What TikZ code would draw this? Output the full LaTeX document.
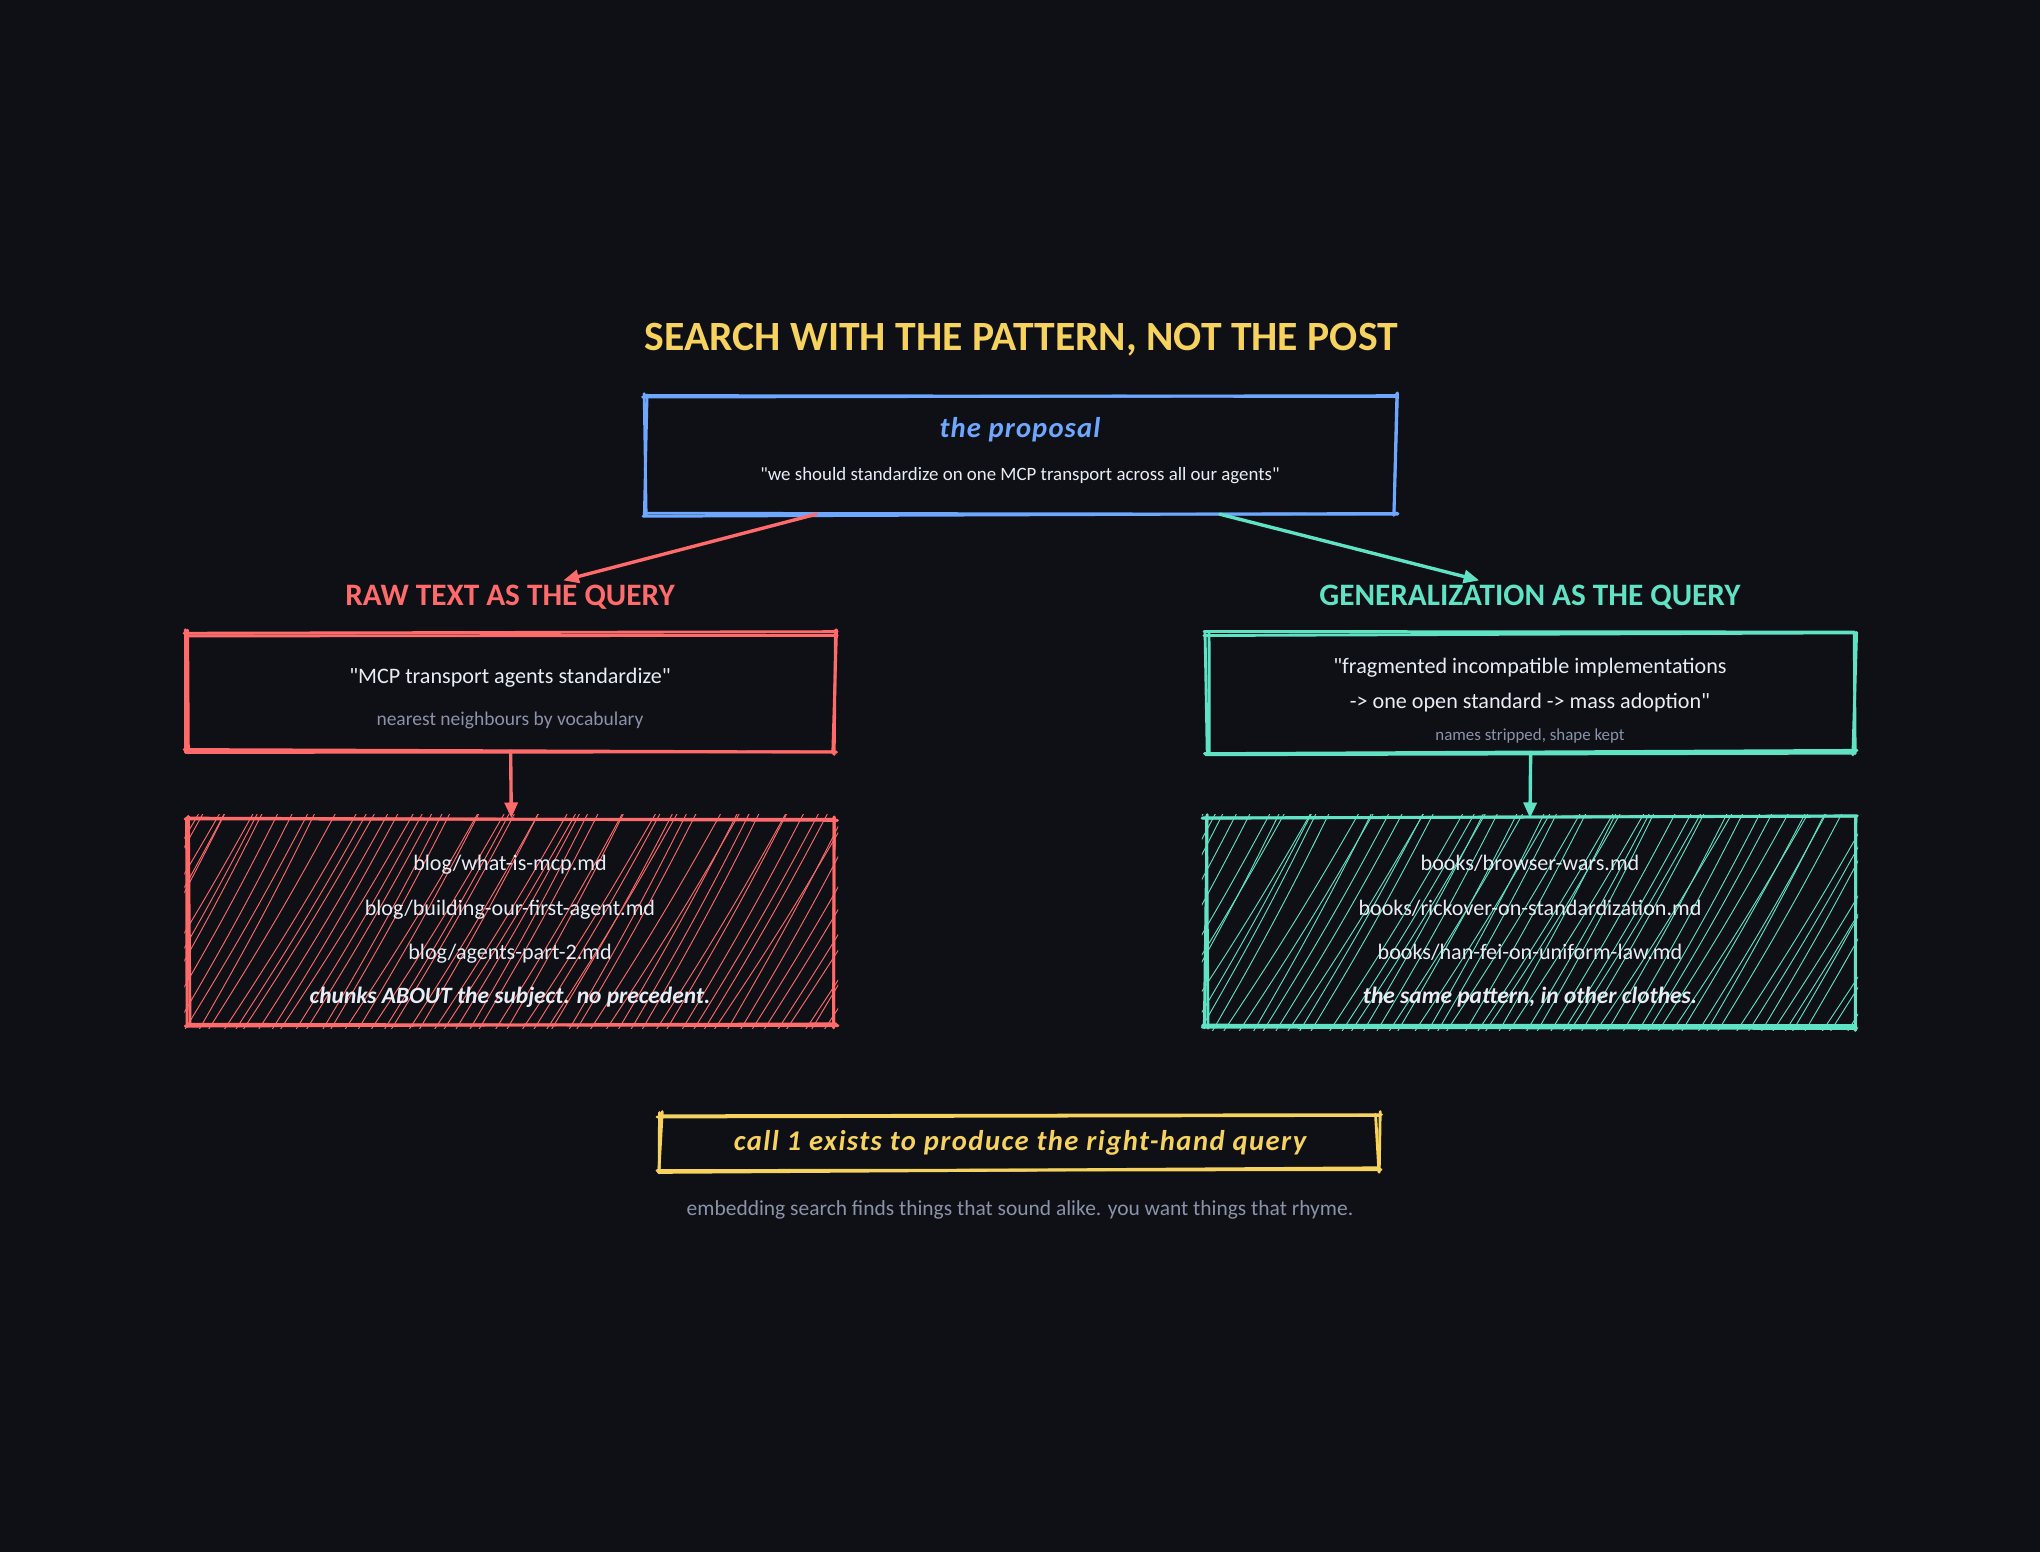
\documentclass[tikz,border=0pt]{standalone}
\usepackage{fontspec}
\setmainfont{Carlito}
\usetikzlibrary{arrows.meta}

\definecolor{bg}{HTML}{0E1016}
\definecolor{sun}{HTML}{F6D25E}
\definecolor{sky}{HTML}{6EA8FE}
\definecolor{coral}{HTML}{FF6B6B}
\definecolor{mint}{HTML}{5FE3C4}
\definecolor{ink}{HTML}{E8EDF5}
\definecolor{mist}{HTML}{8A93A8}

% rough double outline round a named node
\newcommand\sketchrect[2]{%
  \foreach \pass in {1,2}{
    \draw[#2,line width=2.2pt,line cap=round]
      ([shift={({-3pt*rnd},{2pt*rand})}]#1.north west) -- ([shift={({3pt*rnd},{2pt*rand})}]#1.north east);
    \draw[#2,line width=2.2pt,line cap=round]
      ([shift={({2pt*rand},{3pt*rnd})}]#1.north east) -- ([shift={({2pt*rand},{-3pt*rnd})}]#1.south east);
    \draw[#2,line width=2.2pt,line cap=round]
      ([shift={({3pt*rnd},{2pt*rand})}]#1.south east) -- ([shift={({-3pt*rnd},{2pt*rand})}]#1.south west);
    \draw[#2,line width=2.2pt,line cap=round]
      ([shift={({2pt*rand},{-3pt*rnd})}]#1.south west) -- ([shift={({2pt*rand},{3pt*rnd})}]#1.north west);
  }}

% hachure fill inside a named node
\newcommand\hachure[2]{%
  \begin{scope}
    \clip ([shift={(-3pt,-3pt)}]#1.south west) rectangle ([shift={(3pt,3pt)}]#1.north east);
    \foreach \k in {0,...,66}
      \draw[#2,line width=0.7pt] ([shift={({(\k*9.5-110+3*rand)*1pt},-8pt)}]#1.south west) to[bend right=2] ++({60+2*rand}:210pt);
  \end{scope}}

\begin{document}
\begin{tikzpicture}[x=1pt,y=-1pt,
  headline/.style={font=\fontsize{32}{36}\selectfont\bfseries,text=sun,anchor=mid},
  label/.style={font=\fontsize{24}{28}\selectfont\bfseries,anchor=mid},
  body/.style={font=\fontsize{17}{20}\selectfont,text=ink,anchor=mid},
  note/.style={font=\fontsize{15}{18}\selectfont,text=mist,anchor=mid},
  strong/.style={font=\fontsize{18}{21}\selectfont\bfseries\itshape,text=ink,anchor=mid},
  frame/.style={inner sep=0pt,minimum width=#1},
  link/.style={line width=2.6pt,line cap=round,-{Triangle[length=12pt,width=10pt]}}]
\pgfmathsetseed{4}
\fill[bg] (0,0) rectangle (1568,1193);

\path (785,267) node[headline] (title) {SEARCH WITH THE PATTERN, NOT THE POST};

% the proposal
\path (784.5,349.5) node[frame=575pt,minimum height=91pt] (prop) {};
\sketchrect{prop}{sky}
\path (784,334) node[label,text=sky,font=\fontsize{22}{26}\selectfont\bfseries\itshape\addfontfeature{LetterSpace=4}] (propname) {the proposal};
\path (784,367) node[body,font=\fontsize{14.5}{17}\selectfont] (propquote) {\textquotedbl we should standardize on one MCP transport across all our agents\textquotedbl};

% left: raw text
\path (392,463) node[label,text=coral] (rawhead) {RAW TEXT AS THE QUERY};
\path (392.5,532) node[frame=497pt,minimum height=90pt] (rawq) {};
\sketchrect{rawq}{coral}
\path (392,523) node[body] (rawqtext) {\textquotedbl MCP transport agents standardize\textquotedbl};
\path (392,555) node[note] (rawqnote) {nearest neighbours by vocabulary};

\path (393,708) node[frame=496pt,minimum height=158pt] (rawres) {};
\hachure{rawres}{coral}
\sketchrect{rawres}{coral}
\path (392,667) node[body] (rawa) {blog/what-is-mcp.md};
\path (392,701) node[body] (rawb) {blog/building-our-first-agent.md};
\path (392,735) node[body] (rawc) {blog/agents-part-2.md};
\path (392,769) node[strong] (rawd) {chunks ABOUT the subject. no precedent.};

% right: generalization
\path (1176,463) node[label,text=mint] (genhead) {GENERALIZATION AS THE QUERY};
\path (1176.5,532.5) node[frame=497pt,minimum height=91pt] (genq) {};
\sketchrect{genq}{mint}
\path (1176,515) node[body] (genqa) {\textquotedbl fragmented incompatible implementations};
\path (1176,542) node[body] (genqb) {-> one open standard -> mass adoption\textquotedbl};
\path (1176,567) node[note,font=\fontsize{13}{15}\selectfont] (genqnote) {names stripped, shape kept};

\path (1176,709) node[frame=498pt,minimum height=160pt] (genres) {};
\hachure{genres}{mint}
\sketchrect{genres}{mint}
\path (1176,667) node[body] (gena) {books/browser-wars.md};
\path (1176,701) node[body] (genb) {books/rickover-on-standardization.md};
\path (1176,735) node[body] (genc) {books/han-fei-on-uniform-law.md};
\path (1176,769) node[strong] (gend) {the same pattern, in other clothes.};

% arrows
\draw[link,coral] ([xshift=-157pt]prop.south) -- ([xshift=41pt]rawhead.north);
\draw[link,mint] ([xshift=153pt]prop.south) -- ([xshift=-39pt]genhead.north);
\draw[link,coral] (rawq.south) -- (rawres.north);
\draw[link,mint] (genq.south) -- (genres.north);

% bottom line
\path (783.5,878) node[frame=551pt,minimum height=42pt] (call) {};
\sketchrect{call}{sun}
\path (784,882) node[label,text=sun,font=\fontsize{22}{25}\selectfont\bfseries\itshape\addfontfeature{LetterSpace=5}] (calltext) {call 1 exists to produce the right-hand query};
\path (784,932) node[note,font=\fontsize{16.5}{20}\selectfont] (caption) {embedding search finds things that sound alike. you want things that rhyme.};
\end{tikzpicture}
\end{document}
